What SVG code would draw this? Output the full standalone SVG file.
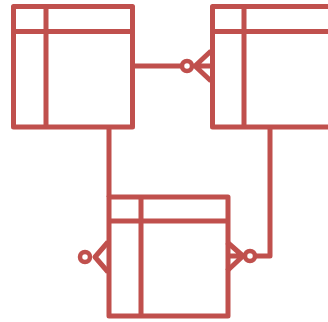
<svg xmlns="http://www.w3.org/2000/svg" width="328" height="322" viewBox="0 0 328 322">
<style>
.s{fill:none;stroke:#c0504d;stroke-width:5;stroke-linejoin:round;stroke-linecap:butt}
.c{fill:#ffffff;stroke:#c0504d;stroke-width:4.5}
.t{fill:#ffffff;stroke:#c0504d;stroke-width:5;stroke-linejoin:round}
</style>
<rect width="328" height="322" fill="#ffffff"/>
<g id="connectors">
<path class="s" d="M132,66 H182"/>
<path class="s" d="M73,126 H109 V197"/>
<path class="s" d="M270,127 V256 H255"/>
</g>
<g id="table1">
<rect class="t" x="13.5" y="6.5" width="119" height="120.5"/>
<path class="s" d="M46,6.5 V127 M13.5,31.5 H132.5"/>
</g>
<g id="table2">
<rect class="t" x="212.5" y="6.5" width="120" height="120.5"/>
<path class="s" d="M244,6.5 V127 M212.5,31.5 H332.5"/>
</g>
<g id="table3">
<rect class="t" x="109" y="197" width="119" height="119"/>
<path class="s" d="M141,197 V316 M109,221 H228"/>
</g>
<g id="ends">
<circle class="c" cx="187" cy="66" r="5"/>
<path class="s" d="M211,51 L195,66 L211,81 M195,66 H212"/>
<circle class="c" cx="85" cy="257" r="5"/>
<path class="s" d="M108,242 L95,257 L108,272"/>
<circle class="c" cx="250" cy="256" r="5"/>
<path class="s" d="M227,242 L243,256 L227,271 M228,256 H245"/>
</g>
</svg>
